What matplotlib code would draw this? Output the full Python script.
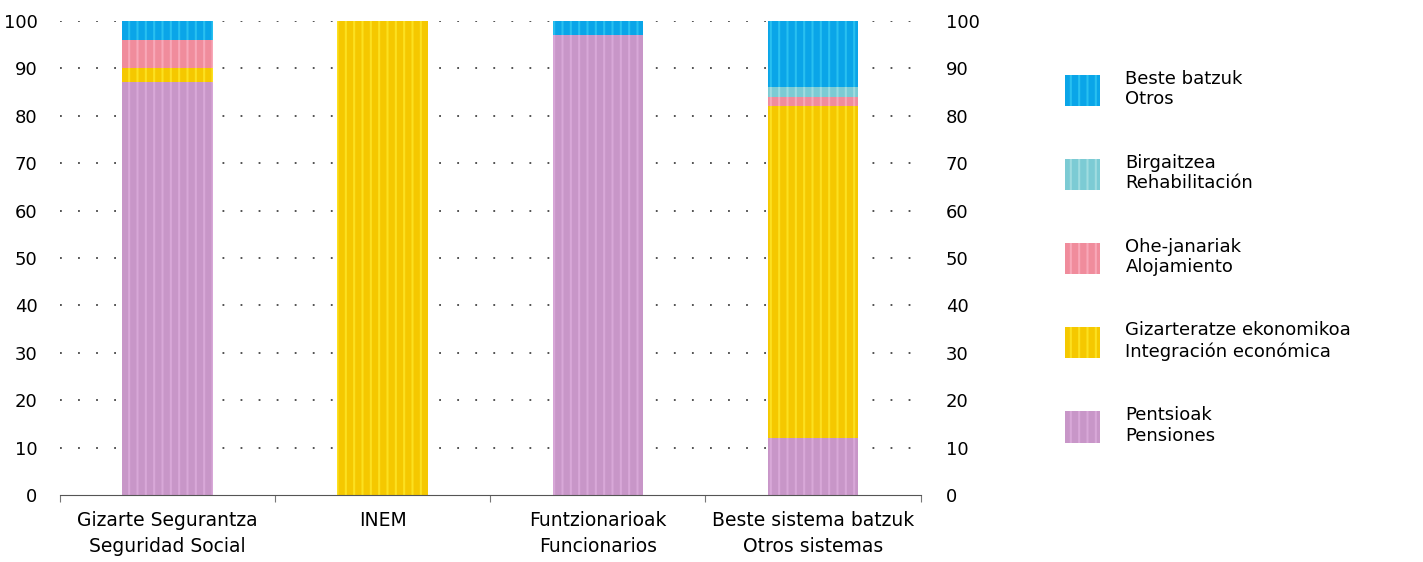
import matplotlib
matplotlib.use("Agg")
import matplotlib.pyplot as plt
import numpy as np
from matplotlib.patches import Patch

# Categories (Basque / Spanish)
categories = ["Gizarte Segurantza\nSeguridad Social", "INEM",
              "Funtzionarioak\nFuncionarios", "Beste sistema batzuk\nOtros sistemas"]

# Series values in % (bottom to top)
pensiones = [87, 0, 97, 12]
integracion = [3, 100, 0, 70]
alojamiento = [6, 0, 0, 2]
rehabilitacion = [0, 0, 0, 2]
otros = [4, 0, 3, 14]

series_labels = ["Pentsioak\nPensiones",
                 "Gizarteratze ekonomikoa\nIntegración económica",
                 "Ohe-janariak\nAlojamiento",
                 "Birgaitzea\nRehabilitación",
                 "Beste batzuk\nOtros"]
colors = ["#c896c8", "#f5c800", "#f08c9c", "#7ccbd4", "#0aa5e8"]
hatch_colors = ["#d8a8d8", "#fce020", "#f8a8b8", "#a0dce0", "#28c0f0"]

y_ticks = list(range(0, 101, 10))


def main():
    fig = plt.figure(figsize=(14.23, 5.62), dpi=100)
    ax = fig.add_axes([0.042, 0.119, 0.605, 0.844])

    x = np.arange(len(categories))
    width = 0.42
    data = [pensiones, integracion, alojamiento, rehabilitacion, otros]
    bottom = np.zeros(len(categories))
    plt.rcParams['hatch.linewidth'] = 1.5
    for vals, c, hc in zip(data, colors, hatch_colors):
        vals = np.array(vals, dtype=float)
        ax.bar(x, vals, width, bottom=bottom, color=c, edgecolor=hc,
               hatch="||", linewidth=0, zorder=2)
        bottom += vals

    # dotted gridlines
    for t in y_ticks[1:]:
        ax.axhline(t, color="#444444", linestyle=(0, (1, 9)), linewidth=1.3, zorder=1)

    ax.set_xlim(-0.5, 3.5)
    ax.set_ylim(0, 100)
    ax.set_yticks(y_ticks)
    ax.tick_params(axis="y", length=0, labelsize=13, pad=16)
    for s in ["top", "left", "right"]:
        ax.spines[s].set_visible(False)
    ax.spines["bottom"].set_color("#555555")

    # category boundary ticks
    ax.set_xticks([-0.5, 0.5, 1.5, 2.5, 3.5])
    ax.set_xticklabels([])
    ax.tick_params(axis="x", direction="out", length=5, color="#777777")
    for i, lab in enumerate(categories):
        ax.text(i, -3.3, lab, ha="center", va="top", fontsize=13.5,
                linespacing=1.45, transform=ax.transData)

    ax2 = ax.twinx()
    ax2.set_ylim(0, 100)
    ax2.set_yticks(y_ticks)
    ax2.tick_params(axis="y", length=0, labelsize=13, pad=18)
    for s in ["top", "left", "right", "bottom"]:
        ax2.spines[s].set_visible(False)

    handles = [Patch(facecolor=c, edgecolor=hc, hatch="||", linewidth=0)
               for c, hc in zip(colors, hatch_colors)]
    fig.legend(handles[::-1], series_labels[::-1], loc="upper left",
               bbox_to_anchor=(0.737, 0.905), frameon=False, fontsize=13,
               handlelength=1.95, handleheight=2.3, labelspacing=2.5,
               handletextpad=1.4)

    fig.savefig("out.png", dpi=100)


if __name__ == "__main__":
    main()
